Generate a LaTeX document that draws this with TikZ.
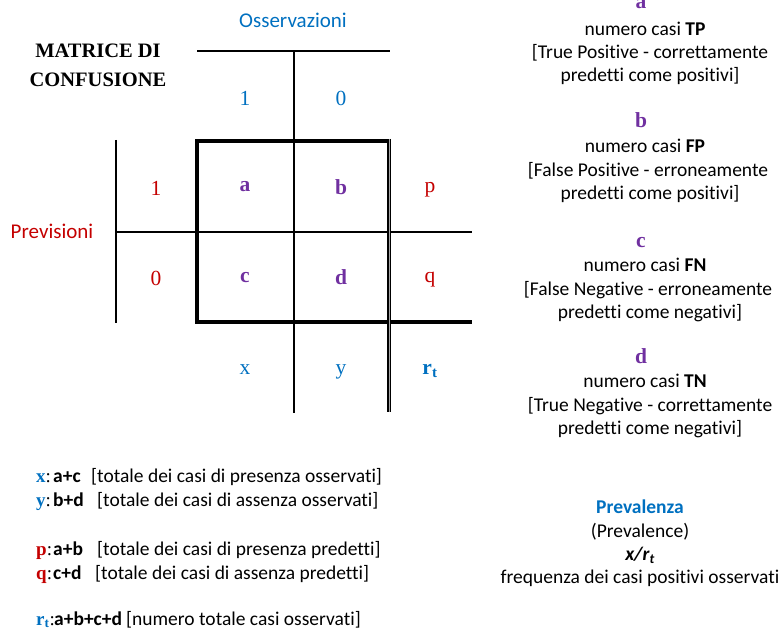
\documentclass[tikz,border=0pt]{standalone}
\usepackage{fontspec}
\setmainfont{Liberation Serif}
\setsansfont{Carlito}[Ligatures=NoCommon]
\definecolor{obsblue}{RGB}{0,112,192}
\definecolor{predred}{RGB}{196,0,0}
\definecolor{cellpurple}{RGB}{112,48,160}
\begin{document}
\begin{tikzpicture}[x=1pt,y=-1pt,
  thin rule/.style={line width=2pt, black},
  thick rule/.style={line width=4pt, black},
  header/.style={font=\sffamily\fontsize{21}{25}\selectfont},
  title/.style={font=\bfseries\fontsize{20.5}{29}\selectfont, align=center},
  tick/.style={font=\fontsize{21.5}{24}\selectfont},
  cell/.style={text=cellpurple, font=\bfseries\fontsize{21.5}{24}\selectfont},
  desc/.style={font=\sffamily\fontsize{19.5}{23.5}\selectfont, anchor=base, inner sep=0pt},
  key/.style={font=\bfseries\fontsize{19}{24}\selectfont, anchor=base west, inner sep=0pt},
  formula/.style={font=\sffamily\bfseries\fontsize{19.5}{23.5}\selectfont, anchor=base west, inner sep=0pt},
  note/.style={font=\sffamily\fontsize{19.5}{23.5}\selectfont, anchor=base west, inner sep=0pt}]
\useasboundingbox (0,0) rectangle (783,631);

% ---- table rules ----
\draw[thin rule] (197,51) -- (390,51);
\draw[thin rule] (294,51) -- (294,413);
\draw[thin rule] (116,140) -- (116,323);
\draw[thin rule] (116,232) -- (472,232);
\draw[thick rule] (389,141) -- (197,141) -- (197,322) -- (472,322);
\draw[line width=4.5pt] (389,139) -- (389,412);
\draw[line width=0.8pt, gray!70] (389.6,139) -- (389.6,412);

% ---- headings ----
\node[header, text=obsblue] (obs) at (293,20) {Osservazioni};
\node[header, text=predred] (prev) at (52,231) {Previsioni};
\node[title] (title) at (98,65) {MATRICE DI\\CONFUSIONE};

% ---- axis values ----
\node[tick, text=obsblue] (o1) at (245,98) {1};
\node[tick, text=obsblue] (o0) at (341,98) {0};
\node[tick, text=predred] (p1) at (156,188) {1};
\node[tick, text=predred] (p0) at (156,278) {0};

% ---- cells ----
\node[cell] (a) at (245,187) {a};
\node[cell] (b) at (341,187) {b};
\node[cell] (c) at (245,278) {c};
\node[cell] (d) at (341,277) {d};

% ---- marginal totals ----
\node[tick, text=predred] (p) at (430,190) {p};
\node[tick, text=predred] (q) at (430,280) {q};
\node[tick, text=obsblue] (x) at (245,370) {x};
\node[tick, text=obsblue] (y) at (341,372) {y};
\node[tick, text=obsblue, font=\bfseries\fontsize{21.5}{24}\selectfont] (rt) at (430,371) {r\textsubscript{t}};

% ---- cell descriptions ----
\node[cell, anchor=base, inner sep=0pt] (la) at (641,9) {a};
\node[desc] (la1) at (645,36) {numero casi \textbf{TP}};
\node[desc] (la2) at (650,59) {[True Positive - correttamente};
\node[desc] (la3) at (650,82) {predetti come positivi]};

\node[cell, anchor=base, inner sep=0pt] (lb) at (641,128) {b};
\node[desc] (lb1) at (645,153) {numero casi \textbf{FP}};
\node[desc] (lb2) at (648,176) {[False Positive - erroneamente};
\node[desc] (lb3) at (650,199) {predetti come positivi]};

\node[cell, anchor=base, inner sep=0pt] (lc) at (641,247) {c};
\node[desc] (lc1) at (645,271) {numero casi \textbf{FN}};
\node[desc] (lc2) at (648,295) {[False Negative - erroneamente};
\node[desc] (lc3) at (650,318) {predetti come negativi]};

\node[cell, anchor=base, inner sep=0pt] (ld) at (641,363) {d};
\node[desc] (ld1) at (645,387) {numero casi \textbf{TN}};
\node[desc] (ld2) at (650,411) {[True Negative - correttamente};
\node[desc] (ld3) at (650,434) {predetti come negativi]};

% ---- prevalence ----
\node[desc, text=obsblue, font=\sffamily\bfseries\fontsize{19.5}{23.5}\selectfont] (prv) at (640,513) {Prevalenza};
\node[desc] (prv1) at (640,537) {(Prevalence)};
\node[desc, font=\sffamily\bfseries\itshape\fontsize{19.5}{23.5}\selectfont] (prv2) at (640,560) {x/r\textsubscript{t}};
\node[desc] (prv3) at (640,583) {frequenza dei casi positivi osservati};

% ---- legend of totals ----
\node[key, text=obsblue] (kx) at (36,482) {x\textmd{\color{black}:}};
\node[formula] (fx) at (53,482) {a+c};
\node[note] (nx) at (91,482) {[totale dei casi di presenza osservati]};

\node[key, text=obsblue] (ky) at (36,506) {y\textmd{\color{black}:}};
\node[formula] (fy) at (53,506) {b+d};
\node[note] (ny) at (97,506) {[totale dei casi di assenza osservati]};

\node[key, text=predred] (kp) at (36,555) {p\textmd{\color{black}:}};
\node[formula] (fp) at (53,555) {a+b};
\node[note] (np) at (97,555) {[totale dei casi di presenza predetti]};

\node[key, text=predred] (kq) at (36,579) {q\textmd{\color{black}:}};
\node[formula] (fq) at (53,579) {c+d};
\node[note] (nq) at (95,579) {[totale dei casi di assenza predetti]};

\node[key, text=obsblue] (kr) at (36,625) {r\textsubscript{t}\textmd{\color{black}:}};
\node[formula] (fr) at (54,625) {a+b+c+d};
\node[note] (nr) at (126,625) {[numero totale casi osservati]};
\end{tikzpicture}
\end{document}
